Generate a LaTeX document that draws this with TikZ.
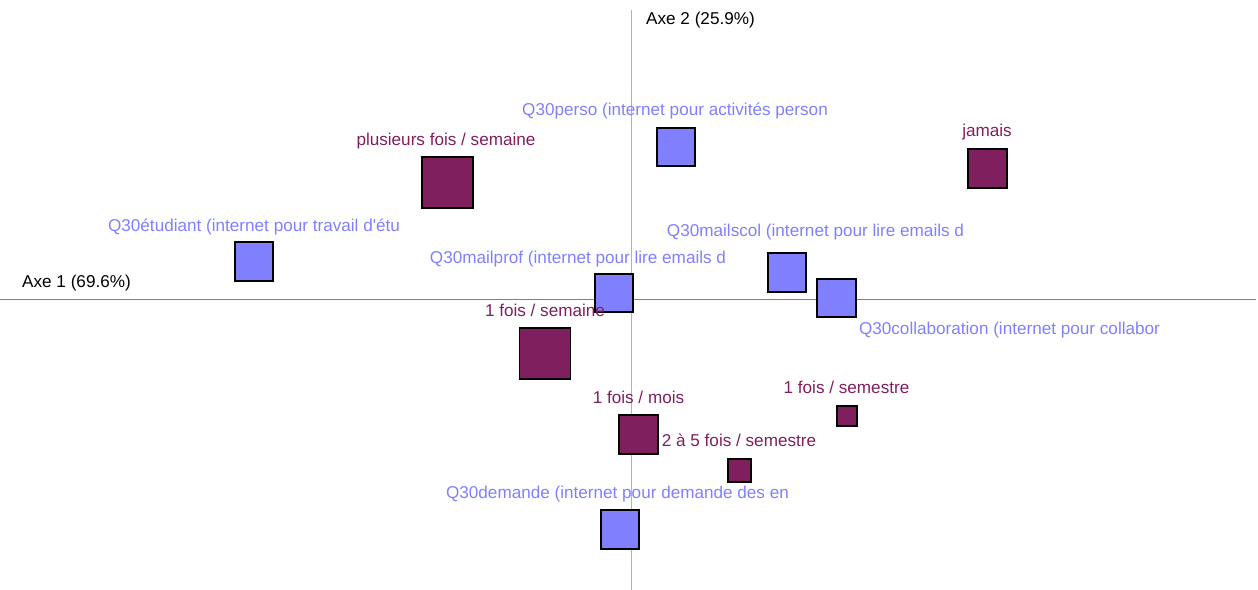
\documentclass[tikz,border=0pt]{standalone}
\usepackage{fontspec}
\setmainfont{Liberation Sans}
\usepackage{tikz}
\definecolor{modcol}{RGB}{128,31,94}
\definecolor{questcol}{RGB}{128,128,255}

\begin{document}
\begin{tikzpicture}[x=0.02cm, y=-0.02cm,
    every node/.style={font=\fontsize{9.75}{11}\selectfont},
    mod/.style={rectangle, draw=black, line width=1pt, fill=modcol, inner sep=0pt},
    quest/.style={rectangle, draw=black, line width=1pt, fill=questcol, inner sep=0pt, minimum size=0.77cm},
    modtxt/.style={text=modcol, anchor=base, inner sep=0pt},
    questtxt/.style={text=questcol, anchor=base, inner sep=0pt},
    axetxt/.style={text=black, anchor=base, inner sep=0pt}]
    \useasboundingbox (0,0) rectangle (1258,590);

    % axes
    \coordinate (h0) at (0,299.5);
    \coordinate (h1) at (1256,299.5);
    \coordinate (v0) at (631.5,10);
    \coordinate (v1) at (631.5,590);
    \draw [black!50, line width=0.6pt] (h0) -- (h1);
    \draw [black!30, line width=0.6pt] (v0) -- (v1);
    \node [axetxt] (axe1) at (76.5,288) {Axe 1 (69.6\%)};
    \node [axetxt] (axe2) at (700.5,25) {Axe 2 (25.9\%)};

    % questions
    \node [quest](perso) at (676,147) {};
    \node [quest](etudiant) at (254,261.5) {};
    \node [quest](mailscol) at (787,272.5) {};
    \node [quest](mailprof) at (614,293) {};
    \node [quest](collab) at (836.5,298) {};
    \node [quest](demande) at (620,529.5) {};

    % modalites
    \node [mod, minimum size=1.02cm](plusieurs) at (447.5,182.5) {};
    \node [mod, minimum size=0.78cm](jamais) at (987.5,168.5) {};
    \node [mod, minimum size=1.02cm](semaine) at (545,353.5) {};
    \node [mod, minimum size=0.78cm](mois) at (638.5,434.5) {};
    \node [mod, minimum size=0.4cm](semestre) at (847,416) {};
    \node [mod, minimum size=0.46cm](deuxcinq) at (739.5,470.5) {};

    % labels
    \node [questtxt](persoL) at (675,116) {Q30perso (internet pour activités person};
    \node [questtxt](etudiantL) at (254,232) {Q30étudiant (internet pour travail d\textquotesingle étu};
    \node [questtxt](mailscolL) at (815.5,237) {Q30mailscol (internet pour lire emails d};
    \node [questtxt](mailprofL) at (578,264) {Q30mailprof (internet pour lire emails d};
    \node [questtxt](collabL) at (1009.5,335) {Q30collaboration (internet pour collabor};
    \node [questtxt](demandeL) at (617.5,499) {Q30demande (internet pour demande des en};
    \node [modtxt](plusieursL) at (446,146) {plusieurs fois / semaine};
    \node [modtxt](jamaisL) at (987,137) {jamais};
    \node [modtxt](semaineL) at (545,317) {1 fois / semaine};
    \node [modtxt](moisL) at (638.5,404) {1 fois / mois};
    \node [modtxt](semestreL) at (846.5,394) {1 fois / semestre};
    \node [modtxt](deuxcinqL) at (739,447) {2 à 5 fois / semestre};
    
\end{tikzpicture}
\end{document}
